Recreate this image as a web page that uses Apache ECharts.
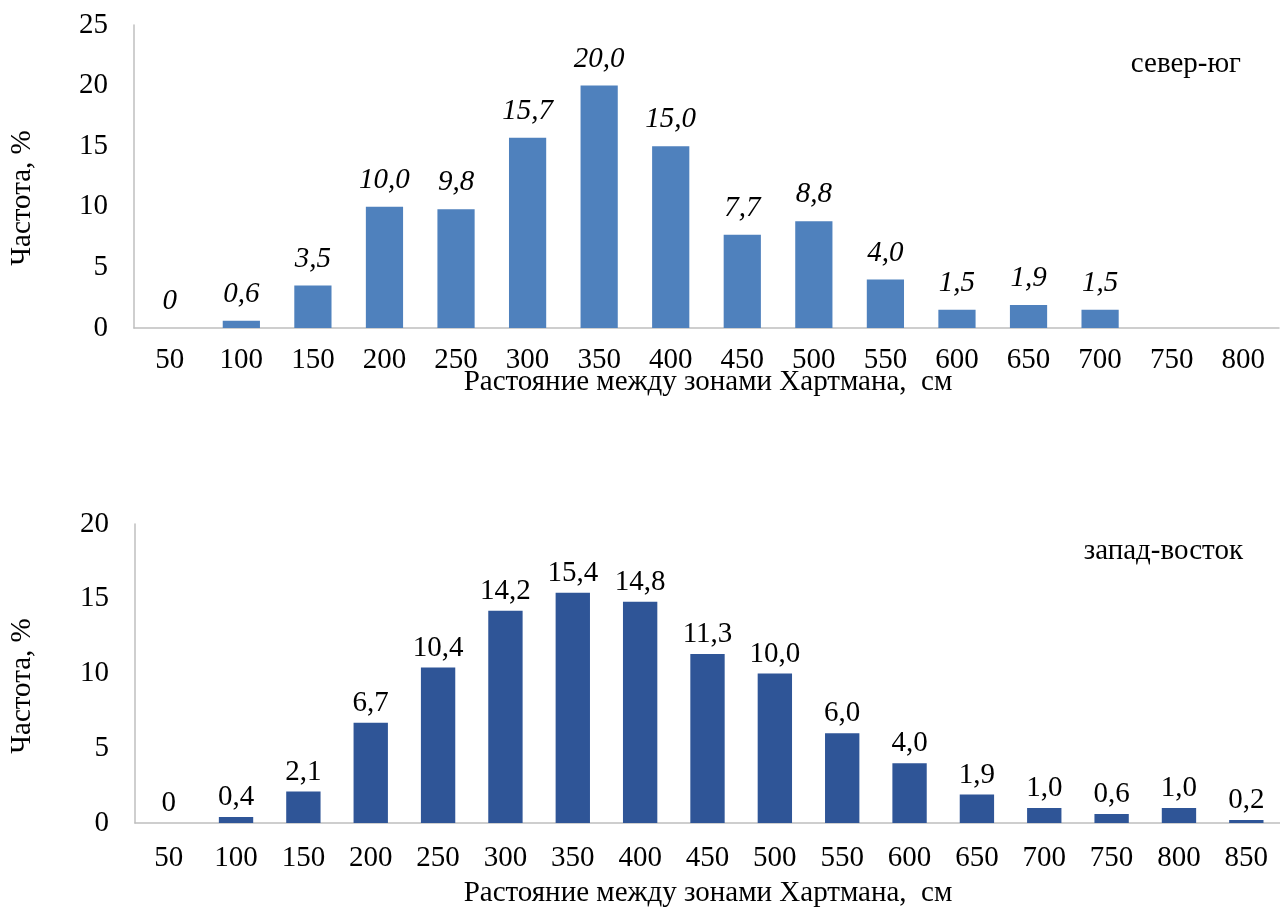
<!DOCTYPE html>
<html>
<head>
<meta charset="utf-8">
<script src="https://cdn.jsdelivr.net/npm/echarts@6/dist/echarts.min.js"></script>
<style>
  html, body { margin: 0; padding: 0; background: #fff; }
  #chart { width: 1280px; height: 913px; }
</style>
</head>
<body>
<div id="chart"></div>
<script>
// Distances between Hartmann zones, cm
const categoriesNS = ['50','100','150','200','250','300','350','400','450','500','550','600','650','700','750','800'];
const categoriesWE = ['50','100','150','200','250','300','350','400','450','500','550','600','650','700','750','800','850'];

// Frequency, %
const valuesNS = [0, 0.6, 3.5, 10.0, 9.8, 15.7, 20.0, 15.0, 7.7, 8.8, 4.0, 1.5, 1.9, 1.5, null, null];
const valuesWE = [0, 0.4, 2.1, 6.7, 10.4, 14.2, 15.4, 14.8, 11.3, 10.0, 6.0, 4.0, 1.9, 1.0, 0.6, 1.0, 0.2];

const yTicksNS = { min: 0, max: 25, interval: 5 };
const yTicksWE = { min: 0, max: 20, interval: 5 };

const FONT = '"Liberation Serif", "Times New Roman", serif';
const FS = 29;
const AXIS_GREY = '#bfbfbf';

function fmt(v) {
  if (v === 0) return '0';
  return v.toFixed(1).replace('.', ',');
}

function xAxisCfg(gridIndex, cats, margin) {
  return {
    type: 'category', gridIndex: gridIndex, data: cats,
    axisLine: { lineStyle: { color: AXIS_GREY, width: 1.5 } },
    axisTick: { show: false },
    axisLabel: { color: '#000', fontFamily: FONT, fontSize: FS, margin: margin, interval: 0 }
  };
}
function yAxisCfg(gridIndex, t) {
  return {
    type: 'value', gridIndex: gridIndex, min: t.min, max: t.max, interval: t.interval,
    axisLine: { show: true, lineStyle: { color: AXIS_GREY, width: 1.5 } },
    axisTick: { show: false },
    splitLine: { show: false },
    axisLabel: { color: '#000', fontFamily: FONT, fontSize: FS, margin: 26 }
  };
}

function textEl(x, y, text, align, rotate) {
  return {
    type: 'text', x: x, y: y, rotation: rotate ? Math.PI / 2 : 0,
    style: { text: text, font: FS + 'px ' + FONT, fill: '#000', textAlign: align, textVerticalAlign: 'middle' }
  };
}

const chart = echarts.init(document.getElementById('chart'), null, { renderer: 'canvas' });

chart.setOption({
  backgroundColor: '#fff',
  animation: false,
  grid: [
    { left: 134, top: 25, width: 1145, height: 303 },
    { left: 135, top: 524, width: 1156, height: 299 }
  ],
  xAxis: [xAxisCfg(0, categoriesNS, 18), xAxisCfg(1, categoriesWE, 21)],
  yAxis: [yAxisCfg(0, yTicksNS), yAxisCfg(1, yTicksWE)],
  series: [
    {
      type: 'bar', xAxisIndex: 0, yAxisIndex: 0, data: valuesNS,
      barWidth: '52%',
      itemStyle: { color: '#4f81bd' },
      label: {
        show: true, position: 'top', distance: 12,
        color: '#000', fontFamily: FONT, fontSize: FS, fontStyle: 'italic',
        formatter: p => fmt(p.value)
      }
    },
    {
      type: 'bar', xAxisIndex: 1, yAxisIndex: 1, data: valuesWE,
      barWidth: '51%',
      itemStyle: { color: '#2f5597' },
      label: {
        show: true, position: 'top', distance: 5,
        color: '#000', fontFamily: FONT, fontSize: FS,
        formatter: p => fmt(p.value)
      }
    }
  ],
  graphic: [
    // axis titles
    textEl(22, 198, 'Частота, %', 'center', true),
    textEl(22, 686, 'Частота, %', 'center', true),
    textEl(708, 382, 'Растояние между зонами Хартмана,  см', 'center', false),
    textEl(708, 893, 'Растояние между зонами Хартмана,  см', 'center', false),
    // panel captions
    textEl(1241, 64, 'север-юг', 'right', false),
    textEl(1243, 551, 'запад-восток', 'right', false)
  ]
});
</script>
</body>
</html>
